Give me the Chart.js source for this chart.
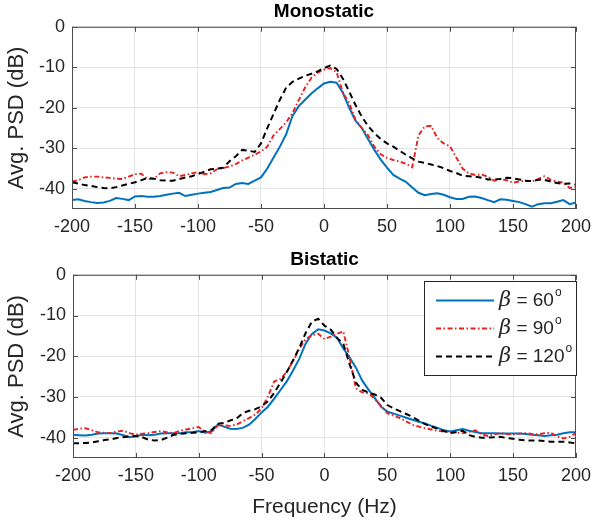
<!DOCTYPE html>
<html>
<head>
<meta charset="utf-8">
<script src="https://cdn.jsdelivr.net/npm/chart.js@4.4.0/dist/chart.umd.min.js"></script>
<style>
  body { margin: 0; background: #fff; }
  #mono { position: absolute; left: 0; top: 0; }
  #bi { position: absolute; left: 0; top: 248px; }
</style>
</head>
<body>
<canvas id="mono" width="598" height="250"></canvas>
<canvas id="bi" width="598" height="273"></canvas>
<script>
// frequency axis (Hz), 5 Hz steps
var freq = [-200, -195, -190, -185, -180, -175, -170, -165, -160, -155,
  -150, -145, -140, -135, -130, -125, -120, -115, -110, -105,
  -100, -95, -90, -85, -80, -75, -70, -65, -60, -55,
  -50, -45, -40, -35, -30, -25, -20, -15, -10, -5,
  0, 5, 10, 15, 20, 25, 30, 35, 40, 45,
  50, 55, 60, 65, 70, 75, 80, 85, 90, 95,
  100, 105, 110, 115, 120, 125, 130, 135, 140, 145,
  150, 155, 160, 165, 170, 175, 180, 185, 190, 195, 200];

var betaLabels = ['60', '90', '120'];
var xTicks = [-200, -150, -100, -50, 0, 50, 100, 150, 200];
var yTicks = [-40, -30, -20, -10, 0];

// Monostatic, avg. PSD (dB)
var mono60 = [-42.8, -42.6, -43.0, -43.3, -43.5, -43.4, -43.0, -42.3, -42.5, -42.8,
  -41.9, -41.8, -42.0, -42.0, -41.8, -41.5, -41.2, -41.0, -41.8, -41.5,
  -41.2, -41.0, -40.8, -40.3, -39.8, -39.7, -38.8, -38.6, -38.8, -38.0,
  -37.2, -35.0, -32.3, -29.6, -26.5, -22.0, -19.6, -18.0, -16.5, -15.2,
  -14.0, -13.6, -13.8, -16.3, -20.0, -23.2, -25.0, -27.8, -30.4, -32.8,
  -34.8, -36.6, -37.5, -38.3, -39.7, -41.0, -41.6, -41.3, -41.1, -41.5,
  -42.1, -42.5, -42.5, -42.0, -41.9, -42.3, -42.8, -43.3, -42.6, -42.7,
  -43.0, -43.3, -43.8, -44.4, -43.8, -43.6, -43.6, -43.2, -42.8, -43.8, -43.4];
var mono90 = [-38.2, -37.9, -37.2, -37.0, -37.0, -37.2, -37.3, -37.5, -37.6, -37.0,
  -36.4, -36.3, -37.6, -37.5, -36.2, -35.9, -36.0, -36.9, -36.6, -36.2,
  -35.9, -36.4, -36.2, -35.2, -34.9, -34.5, -33.9, -33.0, -32.3, -31.6,
  -30.8, -29.6, -26.8, -25.2, -23.6, -21.3, -18.1, -15.0, -12.6, -11.3,
  -10.6, -10.2, -11.2, -16.3, -18.8, -23.0, -25.0, -26.8, -29.6, -31.5,
  -32.4, -32.9, -33.3, -33.8, -34.7, -26.8, -24.6, -24.5, -27.5, -28.8,
  -29.5, -32.3, -35.0, -36.2, -36.6, -36.5, -37.0, -38.0, -37.6, -37.9,
  -38.5, -38.2, -38.0, -38.2, -37.6, -36.9, -37.8, -38.2, -38.5, -39.8, -39.5];
var mono120 = [-38.4, -38.7, -39.1, -39.3, -39.6, -39.8, -39.9, -39.6, -39.2, -38.8,
  -38.4, -37.9, -37.3, -37.5, -37.9, -38.0, -38.0, -37.6, -37.2, -36.9,
  -36.4, -35.8, -35.2, -35.0, -34.8, -33.2, -32.0, -30.4, -30.6, -30.9,
  -28.8, -25.0, -21.5, -18.0, -15.0, -13.6, -12.8, -12.1, -11.6, -11.0,
  -10.2, -9.6, -10.4, -12.8, -16.0, -19.3, -22.2, -24.5, -26.3, -27.7,
  -28.8, -29.6, -30.6, -31.6, -32.5, -33.3, -33.6, -34.0, -34.4, -34.9,
  -35.6, -36.1, -36.8, -36.9, -37.0, -37.3, -37.7, -37.7, -37.6, -37.3,
  -37.4, -37.7, -38.0, -38.1, -37.8, -37.8, -38.2, -38.6, -38.8, -38.7, -39.0];

// Bistatic, avg. PSD (dB)
var bi60 = [-39.3, -39.4, -39.5, -39.3, -39.0, -38.9, -38.9, -39.0, -39.4, -39.9,
  -39.6, -39.3, -39.4, -39.3, -39.0, -38.9, -38.9, -38.9, -38.7, -38.7,
  -38.4, -38.8, -38.5, -36.8, -37.3, -37.8, -37.9, -37.6, -36.8, -35.4,
  -33.8, -32.4, -30.4, -28.3, -26.2, -23.5, -20.6, -16.9, -14.5, -13.4,
  -13.7, -14.4, -15.5, -18.1, -20.3, -22.8, -26.0, -28.2, -30.3, -32.4,
  -33.6, -34.1, -34.6, -35.1, -35.6, -36.1, -36.5, -37.1, -37.6, -38.2,
  -38.5, -38.2, -37.9, -38.3, -38.6, -38.9, -38.9, -38.9, -39.0, -39.0,
  -39.0, -39.0, -39.1, -39.3, -39.4, -39.6, -39.4, -39.3, -38.9, -38.7, -38.7];
var bi90 = [-38.1, -37.8, -37.7, -38.2, -38.7, -38.8, -38.9, -38.5, -38.3, -38.9,
  -39.3, -39.0, -38.9, -38.6, -38.4, -38.7, -38.9, -38.3, -38.0, -37.7,
  -37.4, -38.5, -38.9, -37.0, -37.0, -37.1, -36.8, -36.0, -35.2, -34.3,
  -32.8, -29.9, -26.2, -25.6, -23.8, -21.2, -18.2, -15.8, -14.8, -14.5,
  -15.8, -15.2, -14.5, -13.9, -20.5, -27.9, -28.9, -29.1, -30.5, -32.2,
  -34.0, -34.6, -35.2, -36.0, -36.9, -37.3, -37.7, -38.0, -38.3, -38.5,
  -38.6, -38.8, -38.9, -38.6, -38.2, -39.2, -39.6, -39.2, -38.9, -39.1,
  -39.2, -39.0, -38.9, -39.1, -39.2, -38.9, -38.8, -39.7, -40.2, -39.8, -38.9];
var bi120 = [-41.4, -41.4, -41.3, -41.2, -40.9, -40.6, -40.4, -40.1, -39.9, -39.7,
  -39.6, -39.9, -40.5, -40.7, -40.6, -40.0, -39.3, -39.1, -38.9, -38.8,
  -38.7, -38.4, -38.2, -36.6, -36.4, -35.8, -35.3, -34.0, -33.4, -33.0,
  -32.3, -31.1, -29.0, -26.5, -23.9, -21.0, -17.9, -14.3, -11.5, -10.8,
  -12.5, -13.5, -15.5, -17.0, -22.0, -26.5, -28.3, -28.9, -29.4, -30.2,
  -32.0, -32.8, -33.5, -34.2, -34.9, -35.8, -36.7, -37.3, -37.8, -38.4,
  -38.9, -38.6, -38.3, -39.4, -39.8, -40.0, -40.0, -39.9, -39.8, -40.1,
  -40.3, -40.5, -40.7, -40.7, -40.7, -40.8, -41.0, -41.0, -41.0, -41.2, -41.4];

var FONT = '"Liberation Sans", Arial, sans-serif';
var TXT = '#262626';

function pts(vals) {
  return vals.map(function(v, i) { return { x: freq[i], y: v }; });
}

// axes box with inward tick marks, MATLAB style
var boxPlugin = {
  id: 'box',
  afterDatasetsDraw: function(chart) {
    var a = chart.chartArea, c = chart.ctx;
    var sx = chart.scales.x, sy = chart.scales.y;
    c.save();
    c.strokeStyle = '#4d4d4d';
    c.lineWidth = 1;
    c.strokeRect(a.left + 0.5, a.top + 0.5, a.right - a.left - 1, a.bottom - a.top - 1);
    c.beginPath();
    xTicks.forEach(function(t) {
      var px = Math.round(sx.getPixelForValue(t)) + 0.5;
      c.moveTo(px, a.bottom); c.lineTo(px, a.bottom - 5);
      c.moveTo(px, a.top); c.lineTo(px, a.top + 5);
    });
    yTicks.forEach(function(t) {
      var py = Math.round(sy.getPixelForValue(t)) + 0.5;
      c.moveTo(a.left, py); c.lineTo(a.left + 5, py);
      c.moveTo(a.right, py); c.lineTo(a.right - 5, py);
    });
    c.stroke();
    c.restore();
  }
};

// legend inside the bistatic axes
var legendPlugin = {
  id: 'betaLegend',
  afterDraw: function(chart) {
    if (!chart.options.plugins.betaLegend || !chart.options.plugins.betaLegend.show) return;
    var c = chart.ctx;
    var bx = 424, by = 33, bw = 152, bh = 94;
    c.save();
    c.fillStyle = '#fff';
    c.fillRect(bx, by, bw, bh);
    c.strokeStyle = '#262626';
    c.lineWidth = 1;
    c.strokeRect(bx + 0.5, by + 0.5, bw, bh);
    chart.data.datasets.forEach(function(ds, i) {
      var ry = by + 19 + i * 28;
      c.strokeStyle = ds.borderColor;
      c.lineWidth = ds.borderWidth;
      c.setLineDash(ds.borderDash || []);
      c.beginPath();
      c.moveTo(436, ry + 0.5); c.lineTo(494, ry + 0.5);
      c.stroke();
      c.setLineDash([]);
      c.fillStyle = TXT;
      c.textBaseline = 'middle';
      c.font = 'italic 21px "DejaVu Serif", serif';
      c.fillText('\u03b2', 499, ry + 1);
      var w = c.measureText('\u03b2').width;
      c.font = '19px ' + FONT;
      var s = ' = ' + betaLabels[i];
      c.fillText(s, 499 + w, ry + 1);
      var w2 = c.measureText(s).width;
      c.font = '12px ' + FONT;
      c.fillText('o', 499 + w + w2 + 1, ry - 7);
    });
    c.restore();
  }
};

function makeChart(id, title, s60, s90, s120, yw, xh, showXTitle, rightPad, showLegend) {
  return new Chart(document.getElementById(id), {
    type: 'line',
    data: {
      datasets: [
        { label: '\u03b2 = 60', data: pts(s60), borderColor: '#0072BD', borderWidth: 2,
          pointRadius: 0, order: 2 },
        { label: '\u03b2 = 90', data: pts(s90), borderColor: '#E8201E', borderWidth: 1.9,
          borderDash: [5, 2.5, 1.5, 2.5], pointRadius: 0, order: 1 },
        { label: '\u03b2 = 120', data: pts(s120), borderColor: '#000000', borderWidth: 2,
          borderDash: [6, 4], pointRadius: 0, order: 0 }
      ]
    },
    options: {
      responsive: false,
      animation: false,
      layout: { padding: { left: 0, right: rightPad, top: 0, bottom: 0 } },
      plugins: {
        legend: { display: false },
        tooltip: { enabled: false },
        title: {
          display: true, text: title, fullSize: false, color: '#000',
          font: { family: FONT, size: 19, weight: 'bold' },
          padding: { top: 0, bottom: 4 }
        },
        betaLegend: { show: showLegend }
      },
      scales: {
        x: {
          type: 'linear', min: -200, max: 200,
          ticks: { stepSize: 50, color: TXT, font: { family: FONT, size: 18 }, padding: 7, maxRotation: 0 },
          grid: { color: '#e4e4e4', drawTicks: false },
          border: { display: false },
          title: {
            display: showXTitle, text: 'Frequency (Hz)', color: TXT,
            font: { family: FONT, size: 21 }, padding: { top: 0, bottom: 1 }
          },
          afterFit: function(s) { s.height = xh; }
        },
        y: {
          min: -45, max: 0,
          ticks: { stepSize: 10, color: TXT, font: { family: FONT, size: 18 }, padding: 7 },
          grid: { color: '#e4e4e4', drawTicks: false },
          border: { display: false },
          title: {
            display: true, text: 'Avg. PSD (dB)', color: TXT,
            font: { family: FONT, size: 22 }, padding: { top: 4, bottom: 0 }
          },
          afterBuildTicks: function(s) {
            s.ticks = s.ticks.filter(function(t) { return yTicks.indexOf(t.value) >= 0; });
          },
          afterFit: function(s) { s.width = yw; }
        }
      }
    },
    plugins: [boxPlugin, legendPlugin]
  });
}

makeChart('mono', 'Monostatic', mono60, mono90, mono120, 72, 41, false, 19, false);
makeChart('bi', 'Bistatic', bi60, bi90, bi120, 73, 63, true, 17, true);
</script>
</body>
</html>
